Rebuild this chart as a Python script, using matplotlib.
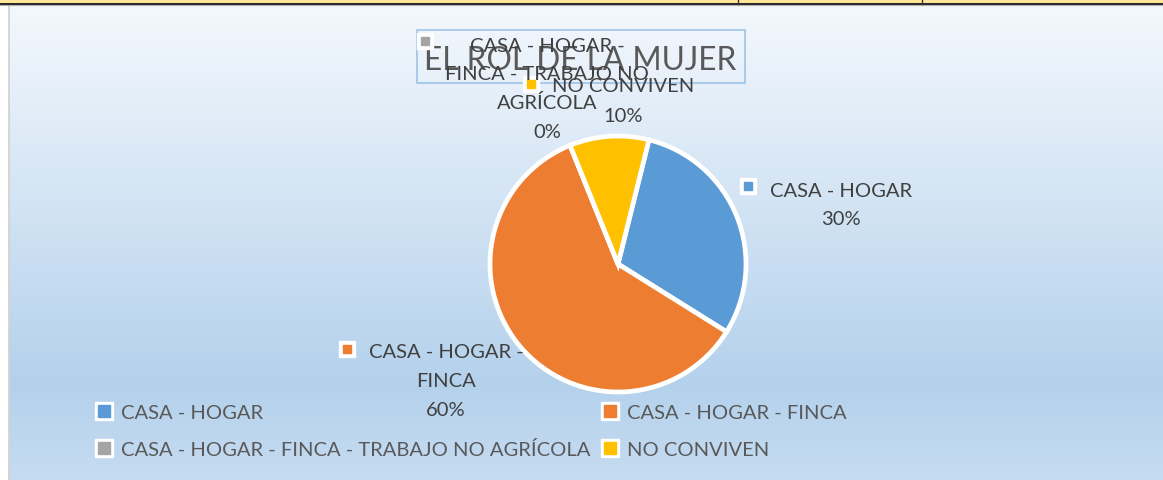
import matplotlib
matplotlib.use("Agg")
import matplotlib.pyplot as plt
import numpy as np
from matplotlib.patches import Rectangle

# ---- data ----
categories = ["CASA - HOGAR", "CASA - HOGAR - FINCA",
              "CASA - HOGAR - FINCA - TRABAJO NO AGRÍCOLA", "NO CONVIVEN"]
values = [30, 60, 0, 10]
colors = ["#5B9BD5", "#ED7D31", "#A5A5A5", "#FFC000"]
label_lines = [["CASA - HOGAR"], ["CASA - HOGAR -", "FINCA"],
               ["CASA - HOGAR -", "FINCA - TRABAJO NO", "AGRÍCOLA"], ["NO CONVIVEN"]]
title = "EL ROL DE LA MUJER"

FONT = ["Lato", "DejaVu Sans"]
W, H = 1163, 481
fig = plt.figure(figsize=(W / 100, H / 100), dpi=100)
fig.patch.set_facecolor("white")
ax = fig.add_axes([0, 0, 1, 1])


def Y(y):
    return H - y


renderer = fig.canvas.get_renderer()


def fit_size(text, target_w, base=20):
    t = fig.text(0, 0, text, fontsize=base, family=FONT)
    w = t.get_window_extent(renderer).width
    t.remove()
    return base * target_w / w


lab_fs = fit_size("CASA - HOGAR", 142)
leg_fs = min(lab_fs, fit_size(categories[2], 470))
tit_fs = fit_size(title, 312)

# ---- background ----
stops = [(0.0, (244, 248, 253)), (0.80, (180, 209, 236)), (1.0, (198, 220, 241))]
n = 400
g = np.zeros((n, 1, 3))
for i in range(n):
    f = i / (n - 1)
    for (a, ca), (b, cb) in zip(stops[:-1], stops[1:]):
        if a <= f <= b:
            t = (f - a) / (b - a)
            g[i, 0] = [(ca[k] + (cb[k] - ca[k]) * t) / 255 for k in range(3)]
ax.imshow(g, extent=[9, W, 0, Y(6)], aspect="auto", origin="upper", zorder=0)
# left gray edge line
ax.plot([9, 9], [0, Y(6)], color="#d0d0d0", lw=1.2, zorder=1)
# top spreadsheet strip
ax.add_patch(Rectangle((0, Y(4)), W, 4, facecolor="#FFE699", edgecolor="none", zorder=1))
ax.plot([0, W], [Y(4.5), Y(4.5)], color="#222222", lw=1.4, zorder=2)
ax.plot([0, W], [Y(6), Y(6)], color="#b0b0b0", lw=0.8, zorder=2)
for xv in (738, 922):
    ax.plot([xv, xv], [Y(0), Y(4.5)], color="#333333", lw=1, zorder=2)

# ---- pie ----
ax.pie(values, colors=colors, startangle=76, counterclock=False,
       center=(618, Y(265)), radius=128,
       wedgeprops=dict(edgecolor="white", linewidth=3.4), frame=True)
ax.set_xlim(0, W)
ax.set_ylim(0, H)
ax.set_aspect("auto")
ax.axis("off")

# ---- title ----
ax.add_patch(Rectangle((417, Y(84)), 328, 53, facecolor="none",
                       edgecolor="#9DC3E6", lw=1.2, zorder=5))
ax.text(580, Y(70.5), title, fontsize=tit_fs, family=FONT, color="#595959",
        ha="center", va="baseline", zorder=6)

# ---- data labels ----
total = sum(values)
pcts = [f"{round(v / total * 100)}%" for v in values]
label_pos = [  # center x, baselines, marker (x, y)
    (841, [197, 225.5], (748, 187)),
    (446, [358, 387, 415.7], (347, 350)),
    (547, [52, 80.5, 109, 137.5], (425, 42)),
    (623, [92, 121.5], (531, 85)),
]
for i in range(len(values)):
    cx, bls, (mx, my) = label_pos[i]
    lines = label_lines[i] + [pcts[i]]
    for line, bl in zip(lines, bls):
        ax.text(cx, Y(bl), line, fontsize=lab_fs, family=FONT, color="#404040",
                ha="center", va="baseline", zorder=8)
    ax.plot([mx], [Y(my)], marker="s", ms=11, color="white", mec="white", zorder=7)
    ax.plot([mx], [Y(my)], marker="s", ms=6.3, color=colors[i], mec=colors[i], zorder=7)

# ---- legend ----
leg_pos = [(104, 419), (610, 419), (104, 456.5), (610, 456.5)]
for i, cat in enumerate(categories):
    mx, bl = leg_pos[i]
    my = bl - 7.5
    ax.plot([mx], [Y(my)], marker="s", ms=13, color="white", mec="white", zorder=7)
    ax.plot([mx], [Y(my)], marker="s", ms=8, color=colors[i], mec=colors[i], zorder=7)
    ax.text(mx + 17, Y(bl), cat, fontsize=leg_fs, family=FONT, color="#595959",
            ha="left", va="baseline", zorder=8)

fig.savefig("out.png", dpi=100)
